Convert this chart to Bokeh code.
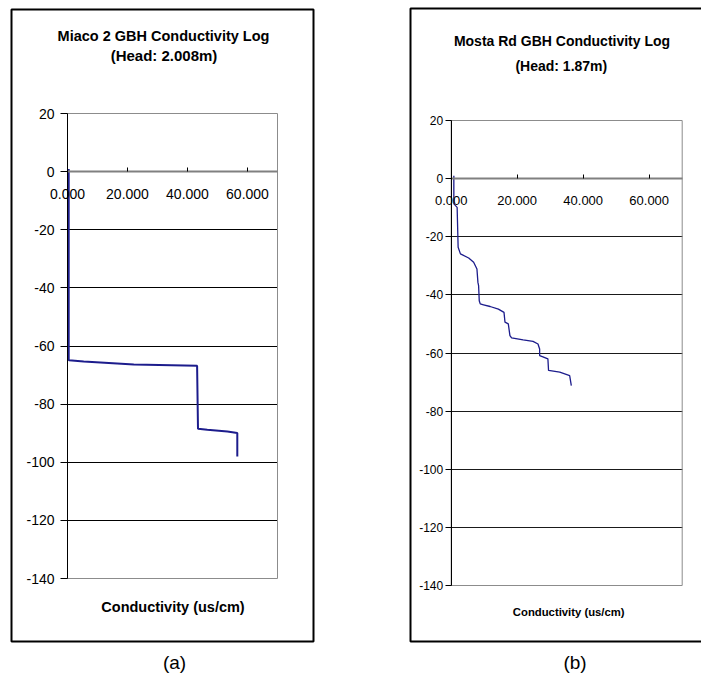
from bokeh.plotting import figure
from bokeh.models import FixedTicker, NumeralTickFormatter, Label, BoxAnnotation, Range1d
from bokeh.layouts import row
from bokeh.embed import file_html
from bokeh.resources import INLINE

# ---------------- data ----------------
miaco_cond = [0.4, 0.4, 0.5, 5.4, 22.1, 43.2, 43.5, 46.6, 53.3, 56.6, 56.6]
miaco_depth = [0.9, -64.7, -64.9, -65.3, -66.4, -66.8, -88.5, -88.8, -89.4, -89.9, -98.0]

mosta_cond = [0.8, 0.8, 1.8, 2.1, 2.8, 5.3, 6.8, 7.8, 8.1, 8.3, 8.5, 8.8, 9.8, 11.8,
              14.3, 16.0, 16.3, 17.3, 17.8, 18.3, 21.8, 24.8, 26.3, 26.8, 26.8, 27.8,
              29.3, 29.5, 32.9, 35.9, 36.4]
mosta_depth = [1.0, -8.7, -9.9, -23.6, -25.9, -27.3, -28.8, -31.1, -35.7, -36.8, -42.0,
               -43.1, -43.4, -44.0, -44.9, -46.0, -49.4, -50.0, -54.0, -54.8, -55.5,
               -56.0, -56.9, -58.6, -60.9, -61.3, -62.0, -66.0, -66.6, -67.8, -71.2]

x_ticks = [0, 20, 40, 60]
y_ticks = [20, 0, -20, -40, -60, -80, -100, -120, -140]
y_tick_labels = ["20", "0", "-20", "-40", "-60", "-80", "-100", "-120", "-140"]
grid_ticks = [-20, -40, -60, -80, -100, -120]
X_MIN, X_MAX = 0, 70
Y_MIN, Y_MAX = -140, 20

titles_a = ["Miaco 2 GBH Conductivity Log", "(Head: 2.008m)"]
titles_b = ["Mosta Rd GBH Conductivity Log", "(Head: 1.87m)"]
x_title = "Conductivity (us/cm)"

FONT = "Liberation Sans"
H = 674


def make_chart(xs, ys, width, px0, px_per_x, py_top, cfg):
    # plot area: data X_MIN at canvas px0, Y_MAX at canvas py_top; 465 px for 160 units
    py_per_y = 465.0 / (Y_MAX - Y_MIN)
    x_start = X_MIN - px0 / px_per_x
    x_end = X_MIN + (width - px0) / px_per_x
    y_end = Y_MAX + py_top / py_per_y
    y_start = Y_MAX - (H - py_top) / py_per_y

    p = figure(width=width, height=H, title=None,
               x_range=Range1d(x_start, x_end), y_range=Range1d(y_start, y_end),
               output_backend="svg", toolbar_location=None,
               min_border_left=0, min_border_right=0, min_border_top=0, min_border_bottom=0)
    p.background_fill_color = "white"
    p.border_fill_color = "white"
    p.outline_line_color = None

    def cx(px):
        return x_start + px / px_per_x

    def cy(py):
        return y_end - py / py_per_y

    # horizontal grid lines restricted to the plot area
    p.xgrid.visible = False
    g = p.ygrid[0]
    g.ticker = FixedTicker(ticks=grid_ticks)
    g.grid_line_color = cfg["gridc"]
    g.grid_line_width = 1
    if "cross_bounds" in g.properties():
        g.cross_bounds = (X_MIN, X_MAX)
    else:
        g.visible = False
        p.segment(x0=[X_MIN] * len(grid_ticks), y0=grid_ticks,
                  x1=[X_MAX] * len(grid_ticks), y1=grid_ticks,
                  line_color=cfg["gridc"], line_width=1)

    # plot area border
    p.add_layout(BoxAnnotation(left=X_MIN, right=X_MAX, top=Y_MAX, bottom=Y_MIN,
                               fill_alpha=0, line_color="#8c8c8c", line_alpha=1.0,
                               line_width=1, level="underlay"))

    xa = p.xaxis[0]
    xa.fixed_location = 0
    xa.bounds = (X_MIN, X_MAX)
    xa.ticker = FixedTicker(ticks=x_ticks)
    xa.formatter = NumeralTickFormatter(format="0.000")
    xa.major_tick_in = 4
    xa.major_tick_out = 0
    xa.minor_tick_in = 0
    xa.minor_tick_out = 0
    xa.axis_line_color = "#808080"
    xa.axis_line_width = 2
    xa.major_tick_line_color = "black"
    xa.major_label_standoff = cfg["xstand"]
    xa.major_label_text_font = FONT
    xa.major_label_text_font_size = cfg["xfs"]
    xa.major_label_text_color = "black"

    ya = p.yaxis[0]
    ya.fixed_location = X_MIN
    ya.bounds = (Y_MIN, Y_MAX)
    ya.ticker = FixedTicker(ticks=y_ticks)
    ya.major_label_overrides = {t: s for t, s in zip(y_ticks, y_tick_labels)}
    ya.major_tick_out = cfg["ytick"]
    ya.major_tick_in = 0
    ya.minor_tick_in = 0
    ya.minor_tick_out = 0
    ya.axis_line_color = "black"
    ya.major_tick_line_color = "black"
    ya.major_label_standoff = cfg["ystand"]
    ya.major_label_text_font = FONT
    ya.major_label_text_font_size = cfg["yfs"]
    ya.major_label_text_color = "black"

    p.line(xs, ys, line_color="#1c1c8c", line_width=cfg["lw"])

    b = cfg["box"]
    p.add_layout(BoxAnnotation(left=cx(b[0]), right=cx(b[1]), top=cy(b[2]), bottom=cy(b[3]),
                               fill_alpha=0, line_color="black", line_alpha=1.0,
                               line_width=2))

    for (tx, ty, txt, fs, bold) in cfg["labels"]:
        p.add_layout(Label(x=cx(tx), y=cy(ty), text=txt, text_align="center",
                           text_baseline="middle", text_font=FONT, text_font_size=fs,
                           text_font_style="bold" if bold else "normal",
                           text_color="black"))
    return p


# positions below are canvas pixels inside each half of the page (styling only)
cfg_a = dict(xstand=17, xfs="14px", ytick=7, ystand=6, yfs="14px", gridc="black", lw=2,
             box=(11, 313, 9, 641),
             labels=[(163, 35, titles_a[0], "14.5px", True),
                     (163.5, 55, titles_a[1], "15px", True),
                     (172.5, 606, x_title, "14.5px", True),
                     (174, 662, "(a)", "19px", False)])

cfg_b = dict(xstand=17, xfs="13px", ytick=6, ystand=2, yfs="12px", gridc="#1a1a1a", lw=1.3,
             box=(60, 400, 8, 641),
             labels=[(211.5, 40, titles_b[0], "14px", True),
                     (210.8, 65.7, titles_b[1], "14px", True),
                     (218.2, 611.7, x_title, "11.3px", True),
                     (224.5, 661.7, "(b)", "19px", False)])

p1 = make_chart(miaco_cond, miaco_depth, 350, 67, 3.0, 113, cfg_a)
p2 = make_chart(mosta_cond, mosta_depth, 351, 100.7, 3.3, 120, cfg_b)

layout = row(p1, p2)
open("out.html", "w").write(file_html(layout, INLINE))
